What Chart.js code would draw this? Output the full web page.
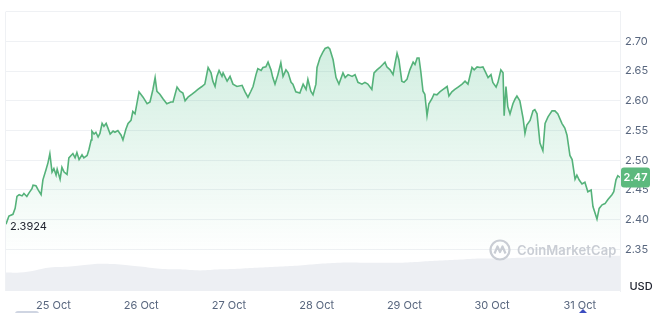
<!DOCTYPE html>
<html>
<head>
<meta charset="utf-8">
<title>Price chart</title>
<script src="https://cdn.jsdelivr.net/npm/chart.js@4.4.1/dist/chart.umd.min.js"></script>
<style>
    html, body { margin: 0; padding: 0; background: #ffffff; }
    #wrap { position: relative; width: 658px; height: 313px; overflow: hidden; }
    #watermark {
        position: absolute; left: 489px; top: 239px;
        display: flex; align-items: center; gap: 6px;
        font-family: Inter, "Noto Sans", sans-serif; font-weight: 600;
        font-size: 13px; color: #c9cdd4; letter-spacing: 0.1px;
    }
    #navMark { position: absolute; left: 15px; top: 311px; width: 24px; height: 6px; border-radius: 3px; background: #cfd5e2; }
    #nowMark { position: absolute; left: 578px; top: 309px; width: 0; height: 0;
        border-left: 5px solid transparent; border-right: 5px solid transparent; border-bottom: 5px solid #3b4cc0; }
</style>
</head>
<body>
<div id="wrap">
    <canvas id="priceChart"></canvas>
    <div id="watermark">
        <svg width="22" height="22" viewBox="0 0 22 22">
            <circle cx="11" cy="11" r="9.5" fill="none" stroke="#c9cdd4" stroke-width="2.2"/>
            <path d="M5.5 14.5 L8.5 7.5 L11 13 L13.5 7.5 L16.5 14.5" fill="none" stroke="#c9cdd4" stroke-width="2.2" stroke-linejoin="round"/>
        </svg>
        <span>CoinMarketCap</span>
    </div>
    <div id="navMark"></div>
    <div id="nowMark"></div>
</div>
<script>
// hours counted from 24 Oct 00:00, one entry per price sample
const hours = [
    11.0, 11.8, 12.9, 13.5, 14.0, 14.6, 15.4, 15.9, 16.7, 17.3, 18.1, 18.4, 19.2, 19.8, 20.6, 21.1,
    21.9, 22.5, 23.0, 23.6, 24.1, 24.7, 25.0, 25.8, 26.3, 26.9, 27.7, 28.2, 28.8, 29.3, 29.9, 30.4,
    31.0, 31.8, 32.3, 33.2, 33.7, 34.3, 34.5, 35.1, 35.6, 36.2, 36.7, 37.3, 37.8, 38.4, 38.9, 39.5,
    40.3, 40.8, 41.6, 42.5, 43.0, 43.8, 44.4, 45.2, 45.7, 46.3, 47.4, 48.5, 49.6, 50.4, 51.2, 51.8,
    52.3, 53.1, 54.0, 55.0, 56.1, 56.7, 57.8, 58.6, 59.4, 60.0, 60.8, 61.9, 62.7, 63.5, 64.6, 65.4,
    66.3, 67.1, 67.6, 68.2, 68.7, 69.3, 70.1, 70.4, 71.5, 72.3, 73.1, 74.2, 75.6, 76.4, 77.2, 78.0,
    78.6, 79.4, 79.9, 80.8, 81.3, 82.1, 82.7, 83.5, 84.0, 84.6, 85.4, 86.2, 86.8, 87.6, 88.2, 89.0,
    89.5, 90.3, 91.4, 92.3, 93.1, 93.6, 94.4, 95.0, 95.8, 96.1, 96.9, 97.7, 98.3, 99.1, 99.6, 100.5,
    101.3, 102.1, 103.2, 103.8, 104.6, 105.7, 106.5, 107.3, 108.4, 109.2, 110.0, 111.1, 111.7, 112.5, 113.3, 114.1,
    114.7, 115.2, 116.1, 116.9, 117.4, 118.0, 118.5, 119.3, 119.9, 120.7, 121.5, 122.4, 122.9, 123.5, 124.0, 124.5,
    125.1, 125.6, 126.2, 126.7, 127.5, 128.1, 128.9, 129.7, 130.6, 131.7, 132.2, 133.0, 133.8, 134.7, 135.8, 136.6,
    137.4, 138.5, 139.1, 139.9, 140.7, 141.5, 142.3, 142.9, 143.7, 144.2, 145.1, 145.6, 146.4, 147.0, 147.3, 147.8,
    148.3, 148.9, 149.7, 150.3, 150.8, 151.6, 152.5, 153.0, 153.5, 154.4, 155.2, 155.7, 156.3, 157.1, 157.9, 158.5,
    159.3, 160.4, 161.2, 162.0, 163.1, 163.9, 164.5, 165.3, 165.9, 166.7, 167.2, 167.8, 168.6, 169.4, 170.2, 171.1,
    171.6, 172.7, 173.3, 174.1, 174.9, 175.7, 176.8, 177.3, 177.9, 178.4, 179.0
];

// price in USD
const prices = [
    2.3924, 2.406, 2.409, 2.419, 2.439, 2.442, 2.440, 2.444, 2.439, 2.445, 2.452, 2.458, 2.457, 2.450, 2.442, 2.467,
    2.483, 2.496, 2.511, 2.480, 2.486, 2.475, 2.485, 2.468, 2.488, 2.480, 2.476, 2.504, 2.508, 2.511, 2.504, 2.513,
    2.501, 2.509, 2.504, 2.508, 2.518, 2.534, 2.549, 2.544, 2.547, 2.539, 2.545, 2.562, 2.557, 2.562, 2.554, 2.544,
    2.549, 2.547, 2.550, 2.542, 2.534, 2.552, 2.562, 2.567, 2.582, 2.578, 2.615, 2.606, 2.595, 2.598, 2.619, 2.639,
    2.616, 2.611, 2.603, 2.595, 2.598, 2.598, 2.623, 2.616, 2.613, 2.600, 2.606, 2.611, 2.615, 2.619, 2.624, 2.628,
    2.656, 2.647, 2.633, 2.624, 2.641, 2.651, 2.641, 2.647, 2.633, 2.641, 2.628, 2.624, 2.626, 2.615, 2.606, 2.616,
    2.624, 2.644, 2.654, 2.651, 2.656, 2.657, 2.665, 2.652, 2.639, 2.628, 2.644, 2.664, 2.641, 2.652, 2.647, 2.631,
    2.628, 2.615, 2.613, 2.628, 2.619, 2.636, 2.616, 2.610, 2.628, 2.656, 2.672, 2.682, 2.688, 2.690, 2.687, 2.669,
    2.639, 2.628, 2.647, 2.639, 2.644, 2.641, 2.644, 2.631, 2.628, 2.631, 2.628, 2.619, 2.647, 2.652, 2.656, 2.661,
    2.665, 2.657, 2.652, 2.644, 2.661, 2.680, 2.669, 2.633, 2.631, 2.636, 2.652, 2.665, 2.661, 2.672, 2.672, 2.649,
    2.616, 2.611, 2.575, 2.595, 2.603, 2.611, 2.610, 2.615, 2.619, 2.624, 2.608, 2.615, 2.619, 2.623, 2.628, 2.633,
    2.628, 2.656, 2.652, 2.657, 2.656, 2.657, 2.647, 2.639, 2.644, 2.631, 2.623, 2.631, 2.652, 2.647, 2.575, 2.624,
    2.590, 2.578, 2.595, 2.603, 2.608, 2.600, 2.570, 2.545, 2.559, 2.567, 2.583, 2.585, 2.578, 2.529, 2.516, 2.562,
    2.573, 2.583, 2.583, 2.578, 2.562, 2.554, 2.542, 2.508, 2.501, 2.468, 2.475, 2.467, 2.460, 2.463, 2.447, 2.450,
    2.422, 2.401, 2.419, 2.425, 2.427, 2.434, 2.442, 2.447, 2.467, 2.474, 2.471
];

// trading volume (billion USD) behind the price line
const volumeHours = [
    11.0, 14.8, 18.9, 23.0, 28.5, 34.0, 36.7, 42.2, 47.7, 53.1, 58.6, 64.1, 69.6, 75.0, 80.5, 86.0, 91.4,
    96.9, 102.4, 107.9, 113.3, 118.8, 124.3, 129.7, 135.2, 140.7, 146.2, 151.6, 157.1, 162.6, 168.0, 173.5, 179.0
];
const volumes = [
    0.53, 0.53, 0.59, 0.67, 0.70, 0.76, 0.78, 0.76, 0.70, 0.64, 0.62, 0.59, 0.62, 0.64, 0.67, 0.70, 0.73,
    0.78, 0.81, 0.81, 0.81, 0.81, 0.84, 0.87, 0.90, 0.93, 0.93, 0.95, 0.98, 0.98, 1.01, 1.01, 1.01
];

// x axis: one label per day at midnight
const dayTicks = [24, 48, 72, 96, 120, 144, 168];
const dayLabels = ['25 Oct', '26 Oct', '27 Oct', '28 Oct', '29 Oct', '30 Oct', '31 Oct'];

// y axis gridlines, the top one carries no label
const priceTicks = [2.35, 2.40, 2.45, 2.50, 2.55, 2.60, 2.65, 2.70, 2.75];
const labelledMax = 2.70;

const green = '#55b27a';
const tickColor = '#58667e';
const gridColor = '#eff1f4';

const toPoints = (xs, ys) => xs.map((x, i) => ({ x: x, y: ys[i] }));

// soft green fill under the price line
const priceFill = (context) => {
    const area = context.chart.chartArea;
    if (!area) {
        return 'rgba(22,199,132,0.12)';
    }
    const gradient = context.chart.ctx.createLinearGradient(0, area.top + 30, 0, area.top + 245);
    gradient.addColorStop(0, 'rgba(22,170,100,0.20)');
    gradient.addColorStop(1, 'rgba(22,170,100,0)');
    return gradient;
};

/* draws the low marker, the last price tag, the left border and the currency name */
const annotations = {
    id: 'annotations',
    afterDatasetsDraw(chart) {
        const ctx = chart.ctx;
        const area = chart.chartArea;
        const xScale = chart.scales.x;
        const yScale = chart.scales.y;

        ctx.save();

        // left border of the plot
        ctx.strokeStyle = gridColor;
        ctx.lineWidth = 1;
        ctx.beginPath();
        ctx.moveTo(area.left - 0.5, area.top);
        ctx.lineTo(area.left - 0.5, area.bottom);
        ctx.stroke();

        // lowest price of the period
        const low = Math.min(...prices);
        const lowIndex = prices.indexOf(low);
        const lowX = xScale.getPixelForValue(hours[lowIndex]);
        const lowY = yScale.getPixelForValue(low);
        ctx.font = '11px Inter, "Noto Sans", sans-serif';
        ctx.fillStyle = '#222531';
        ctx.textAlign = 'left';
        ctx.textBaseline = 'middle';
        ctx.fillText(String(low), lowX + 4, lowY + 3);

        // tag with the latest price on the axis
        const last = prices[prices.length - 1];
        const tagY = yScale.getPixelForValue(last);
        const tagX = area.right + 1;
        ctx.fillStyle = '#5cb97d';
        ctx.beginPath();
        ctx.roundRect(tagX, tagY - 10, 29, 20, 3);
        ctx.fill();
        ctx.fillStyle = '#ffffff';
        ctx.font = '600 11px Inter, "Noto Sans", sans-serif';
        ctx.textAlign = 'center';
        ctx.fillText(last.toFixed(2), tagX + 14.5, tagY + 0.5);

        // currency under the price axis
        ctx.fillStyle = '#222531';
        ctx.font = '500 11px Inter, "Noto Sans", sans-serif';
        ctx.fillText('USD', 641, area.bottom - 4);

        ctx.restore();
    }
};

new Chart(document.getElementById('priceChart'), {
    type: 'line',
    data: {
        datasets: [{
            label: 'Price',
            data: toPoints(hours, prices),
            yAxisID: 'y',
            borderColor: green,
            borderWidth: 1.6,
            pointRadius: 0,
            tension: 0,
            fill: 'start',
            backgroundColor: priceFill
        }, {
            label: 'Volume',
            data: toPoints(volumeHours, volumes),
            yAxisID: 'vol',
            borderWidth: 0,
            pointRadius: 0,
            tension: 0.4,
            fill: 'origin',
            backgroundColor: '#edeff3'
        }]
    },
    options: {
        responsive: true,
        maintainAspectRatio: false,
        animation: false,
        layout: {
            padding: { top: 5, left: 6, right: 0, bottom: 0 }
        },
        plugins: {
            legend: { display: false },
            tooltip: { enabled: false }
        },
        scales: {
            x: {
                type: 'linear',
                min: 11,
                max: 179,
                afterBuildTicks: (scale) => {
                    scale.ticks = dayTicks.map((value) => ({ value: value }));
                },
                afterFit: (scale) => {
                    scale.height = 22;
                },
                grid: { display: false, drawTicks: false },
                border: { display: false },
                ticks: {
                    maxRotation: 0,
                    autoSkip: false,
                    padding: 8,
                    color: tickColor,
                    font: { family: 'Inter, "Noto Sans", sans-serif', size: 11 },
                    callback: (value) => dayLabels[dayTicks.indexOf(value)]
                }
            },
            y: {
                position: 'right',
                min: 2.28,
                max: 2.75,
                afterBuildTicks: (scale) => {
                    scale.ticks = priceTicks.map((value) => ({ value: value }));
                },
                afterFit: (scale) => {
                    scale.width = 38;
                },
                grid: { color: gridColor, drawTicks: false },
                border: { display: true, color: gridColor },
                ticks: {
                    padding: 5,
                    color: tickColor,
                    font: { family: 'Inter, "Noto Sans", sans-serif', size: 11 },
                    callback: (value) => (value > labelledMax + 0.001 ? '' : value.toFixed(2))
                }
            },
            vol: {
                display: false,
                min: 0,
                max: 8
            }
        }
    },
    plugins: [annotations]
});
</script>
</body>
</html>
